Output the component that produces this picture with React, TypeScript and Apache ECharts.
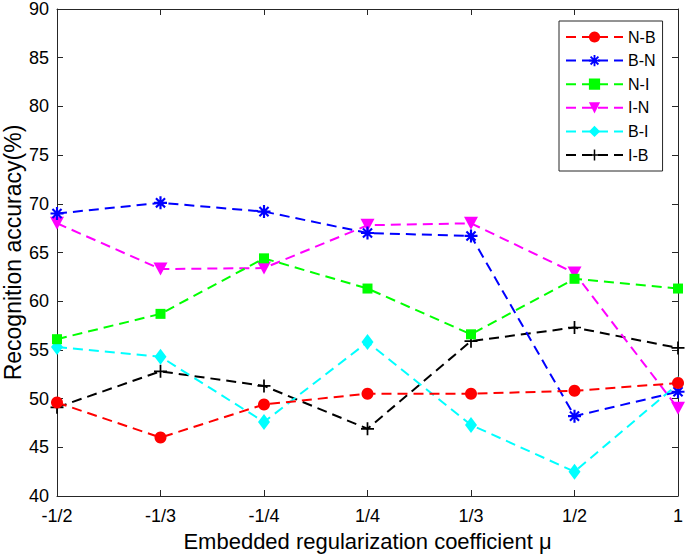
import React, { useEffect, useRef } from "react";
import * as echarts from "echarts";

const categories = ["-1/2", "-1/3", "-1/4", "1/4", "1/3", "1/2", "1"];
const seriesNames = ["N-B", "B-N", "N-I", "I-N", "B-I", "I-B"];
const nB = [49.6, 46.0, 49.4, 50.5, 50.5, 50.8, 51.6];
const bN = [69.0, 70.1, 69.2, 67.0, 66.7, 48.2, 50.7];
const nI = [56.1, 58.7, 64.4, 61.3, 56.6, 62.3, 61.3];
const iN = [68.0, 63.3, 63.4, 67.8, 68.0, 62.9, 49.0];
const bI = [55.3, 54.3, 47.6, 55.8, 47.3, 42.5, 51.5];
const iB = [49.1, 52.8, 51.3, 46.9, 55.9, 57.3, 55.2];
const yTicks = { min: 40, max: 90, interval: 5 };

const FONT = "Arial, 'Liberation Sans', Helvetica, sans-serif";
const AXIS_COLOR = "#262626";

const asteriskPath =
  "path://M-6,-1L6,-1L6,1L-6,1Z M-1,-6L1,-6L1,6L-1,6Z M-3.5,-4.9L4.9,3.5L3.5,4.9L-4.9,-3.5Z M3.5,-4.9L4.9,-3.5L-3.5,4.9L-4.9,3.5Z";
const plusPath = "path://M-6,-0.8L6,-0.8L6,0.8L-6,0.8Z M-0.8,-6L0.8,-6L0.8,6L-0.8,6Z";
const triDownPath = "path://M-6,-5L6,-5L0,6Z";
const diamondPath = "path://M0,-8L5.5,0L0,8L-5.5,0Z";

export default function App() {
  const ref = useRef<HTMLDivElement>(null);
  useEffect(() => {
    if (!ref.current) return;
    const chart = echarts.init(ref.current, undefined, { renderer: "svg" });
    const values = [nB, bN, nI, iN, bI, iB];
    const colors = ["#ff0000", "#0000ff", "#00ff00", "#ff00ff", "#00ffff", "#000000"];
    const symbols = ["circle", asteriskPath, "rect", triDownPath, diamondPath, plusPath];
    const sizes: any[] = [12, 13, 10, [14, 13], [12, 16], 13];
    const series = seriesNames.map((name, i) => ({
      name,
      type: "line",
      data: values[i],
      xAxisIndex: 0,
      yAxisIndex: 0,
      symbol: symbols[i],
      symbolSize: sizes[i],
      showAllSymbol: true,
      itemStyle: { color: colors[i] },
      lineStyle: { color: colors[i], width: 2, type: [10, 6] },
      z: 10 - i,
    }));
    const textStyle = { fontFamily: FONT, fontSize: 18, color: "#000" };
    chart.setOption({
      animation: false,
      backgroundColor: "#fff",
      grid: { left: 57, right: 7, top: 9, bottom: 59, containLabel: false, outerBoundsMode: "none" },
      legend: {
        data: seriesNames,
        orient: "vertical",
        left: 559,
        top: 21,
        padding: [8, 7, 8, 6],
        itemWidth: 57,
        itemHeight: 14,
        itemGap: 7.6,
        borderColor: "#262626",
        borderWidth: 1,
        backgroundColor: "#fff",
        textStyle: { fontFamily: FONT, fontSize: 16, color: "#000" },
      },
      xAxis: [
        {
          type: "category",
          data: categories,
          boundaryGap: false,
          name: "Embedded regularization coefficient μ",
          nameLocation: "middle",
          nameGap: 35,
          nameMoveOverlap: false,
          nameTextStyle: { fontFamily: FONT, fontSize: 22, color: "#000", lineHeight: 20 },
          axisLine: { lineStyle: { color: AXIS_COLOR, width: 1 } },
          axisTick: { inside: true, length: 6, lineStyle: { color: AXIS_COLOR } },
          axisLabel: { ...textStyle, margin: 12, lineHeight: 16 },
          splitLine: { show: false },
        },
        {
          type: "category",
          data: categories,
          boundaryGap: false,
          position: "top",
          axisLine: { lineStyle: { color: AXIS_COLOR, width: 1 } },
          axisTick: { inside: true, length: 6, lineStyle: { color: AXIS_COLOR } },
          axisLabel: { show: false },
          splitLine: { show: false },
        },
      ],
      yAxis: [
        {
          type: "value",
          min: yTicks.min,
          max: yTicks.max,
          interval: yTicks.interval,
          name: "Recognition accuracy(%)",
          nameLocation: "middle",
          nameGap: 33,
          nameMoveOverlap: false,
          nameTextStyle: { fontFamily: FONT, fontSize: 23, color: "#000" },
          axisLine: { show: true, lineStyle: { color: AXIS_COLOR, width: 1 } },
          axisTick: { show: true, inside: true, length: 6, lineStyle: { color: AXIS_COLOR } },
          axisLabel: { ...textStyle, margin: 8, lineHeight: 14 },
          splitLine: { show: false },
        },
        {
          type: "value",
          min: yTicks.min,
          max: yTicks.max,
          interval: yTicks.interval,
          position: "right",
          axisLine: { show: true, lineStyle: { color: AXIS_COLOR, width: 1 } },
          axisTick: { show: true, inside: true, length: 6, lineStyle: { color: AXIS_COLOR } },
          axisLabel: { show: false },
          splitLine: { show: false },
        },
      ],
      series,
    });
    return () => chart.dispose();
  }, []);
  return <div ref={ref} style={{ position: "fixed", left: 0, top: 0, width: 685, height: 555 }} />;
}
